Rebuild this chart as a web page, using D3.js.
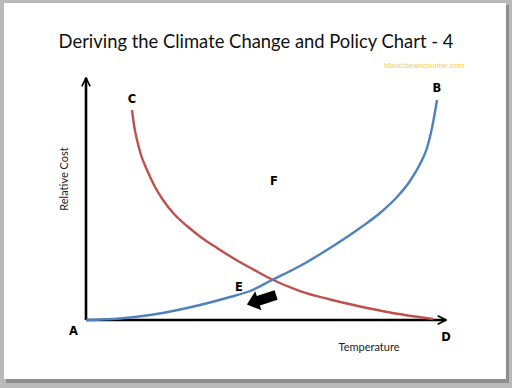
<!DOCTYPE html>
<html>
<head>
<meta charset="utf-8">
<script src="https://cdn.jsdelivr.net/npm/d3@7"></script>
<style>
  html, body { margin: 0; padding: 0; background: #b9b9b9; }
  svg { display: block; }
</style>
</head>
<body>
<svg id="chart" width="512" height="388"></svg>
<script>
// Curve readings (temperature 0-100 vs relative cost 0-100)
const blueTemp = [0, 9.44, 17.78, 26.11, 31.67, 40.0, 45.56, 51.67, 59.44, 67.78, 76.11, 81.67, 86.39, 90.0, 92.78, 94.72, 96.11, 96.94, 97.5];
const blueCost = [0, 0.62, 2.07, 4.34, 6.20, 9.50, 11.98, 16.53, 22.31, 29.75, 38.02, 44.21, 50.83, 57.44, 64.46, 71.07, 79.34, 85.95, 90.91];

const redTemp = [12.78, 13.33, 14.17, 15.28, 16.94, 18.89, 21.39, 24.72, 28.06, 32.22, 36.39, 41.39, 46.94, 51.67, 59.44, 67.78, 76.11, 84.44, 91.39, 96.39];
const redCost = [86.78, 80.58, 74.38, 68.18, 61.98, 55.79, 49.59, 43.39, 38.84, 33.88, 29.75, 25.12, 20.50, 16.74, 11.98, 8.47, 5.58, 3.10, 1.45, 0.41];

const titleText = "Deriving the Climate Change and Policy Chart - 4";
const watermark = "Manicbeancounter.com";

// Point labels in data units
const pointLabels = ["A", "B", "C", "D", "E", "F"];
const labelTemp = [-3.5, 97.5, 12.8, 100, 42.5, 52.2];
const labelCost = [-4.5, 96, 91.5, -7, 13.5, 57.5];

// Block arrow (tail -> tip) in data units
const arrowTemp = [52.8, 44.7];
const arrowCost = [10.3, 6.4];

const svg = d3.select("#chart");

// slide background with shadow
svg.append("rect").attr("x", 6).attr("y", 5).attr("width", 503).attr("height", 378).attr("fill", "#8e8e8e");
svg.append("rect").attr("x", 4).attr("y", 3).attr("width", 502).attr("height", 376).attr("fill", "#ffffff");

const x = d3.scaleLinear().domain([0, 100]).range([86, 446]);
const y = d3.scaleLinear().domain([0, 100]).range([320, 78]);

// Title
svg.append("text")
  .attr("x", 256).attr("y", 48)
  .attr("text-anchor", "middle")
  .attr("font-family", "Lato, 'Open Sans', sans-serif")
  .attr("font-size", 18.4)
  .attr("fill", "#111")
  .text(titleText);

svg.append("text")
  .attr("x", 424).attr("y", 68)
  .attr("text-anchor", "middle")
  .attr("font-family", "'Liberation Sans', Arial, sans-serif")
  .attr("font-size", 7.8)
  .attr("fill", "#efcf55")
  .text(watermark);

// Axes with open arrowheads
const defs = svg.append("defs");
defs.append("marker")
  .attr("id", "axisHead")
  .attr("viewBox", "0 0 10 10")
  .attr("refX", 9).attr("refY", 5)
  .attr("markerWidth", 4).attr("markerHeight", 4)
  .attr("markerUnits", "strokeWidth")
  .attr("orient", "auto")
  .append("path")
  .attr("d", "M1,1 L9,5 L1,9")
  .attr("fill", "none")
  .attr("stroke", "#000")
  .attr("stroke-width", 1.6);

const axes = svg.append("g").attr("stroke", "#000").attr("stroke-width", 2.6).attr("fill", "none");
axes.append("path")
  .attr("d", `M${x(0)},${y(0)} L${x(0)},${y(100)}`)
  .attr("marker-end", "url(#axisHead)");
axes.append("path")
  .attr("d", `M${x(0)},${y(0)} L${x(100)},${y(0)}`)
  .attr("marker-end", "url(#axisHead)");

// Curves
const line = d3.line()
  .x(d => x(d[0]))
  .y(d => y(d[1]))
  .curve(d3.curveMonotoneX);

svg.append("path")
  .datum(d3.zip(redTemp, redCost))
  .attr("d", line)
  .attr("fill", "none")
  .attr("stroke", "#c0504d")
  .attr("stroke-width", 2.4);

svg.append("path")
  .datum(d3.zip(blueTemp, blueCost))
  .attr("d", line)
  .attr("fill", "none")
  .attr("stroke", "#4f81bd")
  .attr("stroke-width", 2.4);

// Block arrow
const ax0 = x(arrowTemp[0]), ay0 = y(arrowCost[0]);
const ax1 = x(arrowTemp[1]), ay1 = y(arrowCost[1]);
const len = Math.hypot(ax1 - ax0, ay1 - ay0);
const ang = Math.atan2(ay1 - ay0, ax1 - ax0) * 180 / Math.PI;
const headLen = 12, shaftHalf = 5, headHalf = 10;
svg.append("path")
  .attr("transform", `translate(${ax0},${ay0}) rotate(${ang})`)
  .attr("d", `M0,${-shaftHalf} L${len - headLen},${-shaftHalf} L${len - headLen},${-headHalf} L${len},0 L${len - headLen},${headHalf} L${len - headLen},${shaftHalf} L0,${shaftHalf} Z`)
  .attr("fill", "#000");

// Point labels
svg.append("g")
  .selectAll("text")
  .data(pointLabels)
  .join("text")
  .attr("x", (d, i) => x(labelTemp[i]))
  .attr("y", (d, i) => y(labelCost[i]))
  .attr("text-anchor", "middle")
  .attr("dominant-baseline", "central")
  .attr("font-family", "'DejaVu Sans', sans-serif")
  .attr("font-weight", "bold")
  .attr("font-size", 11.5)
  .attr("fill", "#000")
  .text(d => d);

// Axis titles
svg.append("text")
  .attr("transform", `translate(68,${(y(0) + y(100)) / 2 - 20}) rotate(-90)`)
  .attr("text-anchor", "middle")
  .attr("font-family", "Lato, 'Open Sans', sans-serif")
  .attr("font-size", 11)
  .attr("fill", "#222")
  .text("Relative Cost");

svg.append("text")
  .attr("x", 369).attr("y", 351)
  .attr("text-anchor", "middle")
  .attr("font-family", "Lato, 'Open Sans', sans-serif")
  .attr("font-size", 11)
  .attr("fill", "#222")
  .text("Temperature");
</script>
</body>
</html>
